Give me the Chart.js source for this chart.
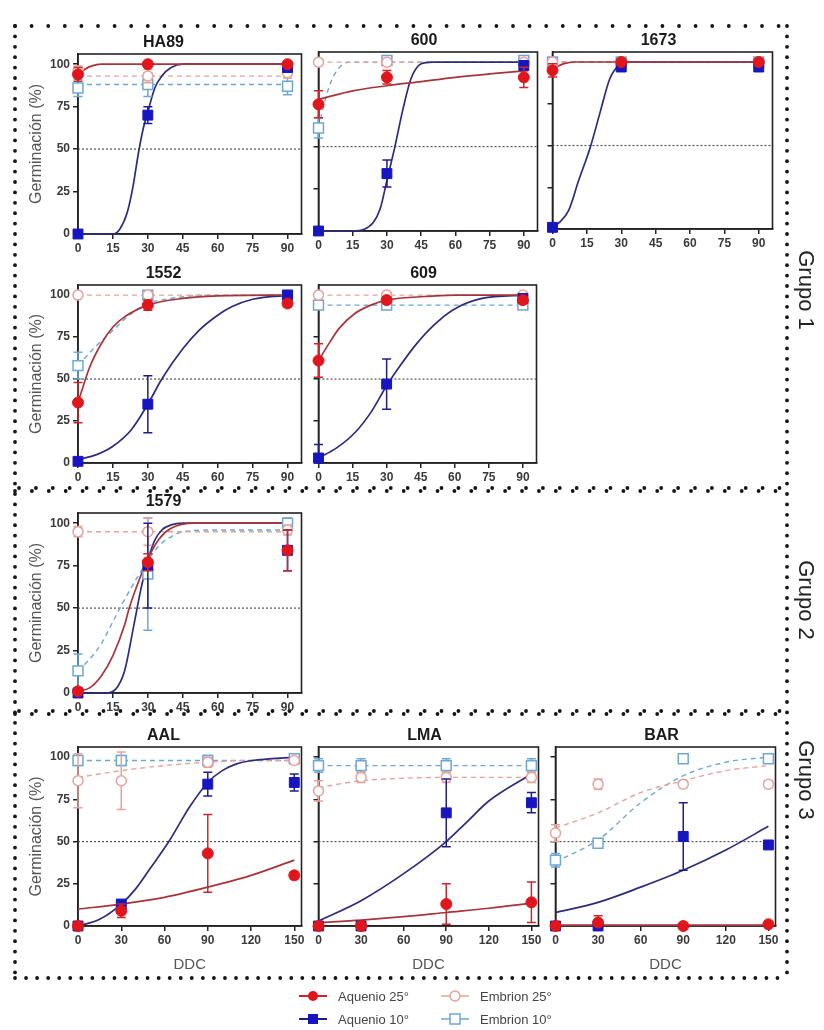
<!DOCTYPE html>
<html>
<head>
<meta charset="utf-8">
<script src="https://cdn.jsdelivr.net/npm/chart.js@4.4.1/dist/chart.umd.min.js"></script>
<style>
  html, body { margin: 0; padding: 0; background: #fff; }
  body { width: 824px; height: 1030px; position: relative; overflow: hidden;
         font-family: "Liberation Sans", Arial, sans-serif; }
  #deco { position: absolute; left: 0; top: 0; }
  .pn { position: absolute; }
  .grp { position: absolute; font-size: 22px; color: #222; white-space: nowrap;
         transform: translate(-50%, -50%) rotate(90deg); }
  .leg { position: absolute; display: flex; align-items: center; font-size: 13px; color: #444; }
  .leg svg { margin-right: 10px; }
</style>
</head>
<body>
<canvas id="deco" width="824" height="1030"></canvas>
<div id="panels"></div>
<div class="grp" style="left:806px;top:290px">Grupo 1</div>
<div class="grp" style="left:806px;top:600px">Grupo 2</div>
<div class="grp" style="left:806px;top:780px">Grupo 3</div>

<div class="leg" style="left:298px;top:987px">
  <svg width="30" height="18"><line x1="1" y1="9" x2="29" y2="9" stroke="#c9282b" stroke-width="2"/><circle cx="15" cy="9" r="5" fill="#e0161c"/></svg><span>Aquenio 25°</span></div>
<div class="leg" style="left:298px;top:1010px">
  <svg width="30" height="18"><line x1="1" y1="9" x2="29" y2="9" stroke="#1e1e86" stroke-width="2"/><rect x="10" y="4" width="10" height="10" fill="#1616c0"/></svg><span>Aquenio 10°</span></div>
<div class="leg" style="left:440px;top:987px">
  <svg width="30" height="18"><line x1="1" y1="9" x2="29" y2="9" stroke="#e6a39b" stroke-width="1.5"/><circle cx="15" cy="9" r="5" fill="#fff" stroke="#e6a39b" stroke-width="1.5"/></svg><span>Embrion 25°</span></div>
<div class="leg" style="left:440px;top:1010px">
  <svg width="30" height="18"><line x1="1" y1="9" x2="29" y2="9" stroke="#6ea7d3" stroke-width="1.5"/><rect x="10" y="4" width="10" height="10" fill="#fff" stroke="#6ea7d3" stroke-width="1.5"/></svg><span>Embrion 10°</span></div>

<script>
// ---------- shared axes ----------
const DAYS_90  = [0, 30, 90];
const DAYS_150 = [0, 30, 90, 150];
const TICKS_90  = [0, 15, 30, 45, 60, 75, 90];
const TICKS_150 = [0, 30, 60, 90, 120, 150];
const TICKS_Y   = [0, 25, 50, 75, 100];
const HALF_LINE = 50;
const SERIES = ['Aquenio 25°', 'Aquenio 10°', 'Embrion 25°', 'Embrion 10°'];

// ---------- HA89 ----------
const ha89_aq25 = [94, 100, 100];  const ha89_aq25_sd = [4, 1, 1];
const ha89_aq10 = [0, 70, 98];     const ha89_aq10_sd = [0, 5, 2];
const ha89_em25 = [96, 93, 95];    const ha89_em25_sd = [3, 4, 3];
const ha89_em10 = [86, 88, 87];    const ha89_em10_sd = [5, 7, 5];
const ha89_fit_aq25 = [[0,93],[3,97],[6,99],[10,100],[20,100],[92,100]];
const ha89_fit_aq10 = [[0,0],[15,0],[18,3],[21,12],[23.5,27],[26,48],[28,62],[30,72],[33,86],[36,93],[40,98],[45,100],[92,100]];
const ha89_fit_em25 = [[0,93],[92,93]];
const ha89_fit_em10 = [[0,88],[92,88]];

// ---------- 600 ----------
const g600_aq25 = [75, 91, 91];    const g600_aq25_sd = [8, 4, 6];
const g600_aq10 = [0, 34, 98];     const g600_aq10_sd = [0, 8, 2];
const g600_em25 = [100, 100, 100]; const g600_em25_sd = [2, 2, 2];
const g600_em10 = [61, 101, 101];  const g600_em10_sd = [6, 2, 2];
const g600_fit_aq25 = [[0,78],[15,83],[30,86],[45,88.5],[60,91],[75,93],[92,95]];
const g600_fit_aq10 = [[0,0],[15,0],[20,1],[24,5],[27,13],[30,30],[33.5,50],[37,72],[40.5,90],[45,99],[50,100],[92,100]];
const g600_fit_em25 = [[0,100],[92,100]];
const g600_fit_em10 = [[0,61],[3,78],[6,90],[10,98],[14,100],[92,100]];

// ---------- 1673 ----------
const g1673_aq25 = [95, 100, 100]; const g1673_aq25_sd = [4, 1, 1];
const g1673_aq10 = [1, 97, 97];    const g1673_aq10_sd = [0, 1, 1];
const g1673_em25 = [100, 100, 100];const g1673_em25_sd = [1, 1, 1];
const g1673_em10 = [100, 100, 100];const g1673_em10_sd = [1, 1, 1];
const g1673_fit_aq25 = [[0,96],[5,99],[10,100],[20,100],[92,100]];
const g1673_fit_aq10 = [[0,1],[3,4],[7,11],[11.4,29],[16.5,49],[20.8,70],[25,90],[29,98],[33,100],[92,100]];
const g1673_fit_em25 = [[0,100],[92,100]];
const g1673_fit_em10 = [[0,100],[92,100]];

// ---------- 1552 ----------
const g1552_aq25 = [36, 94, 95];   const g1552_aq25_sd = [12, 3, 2];
const g1552_aq10 = [1, 35, 100];   const g1552_aq10_sd = [2, 17, 1];
const g1552_em25 = [100, 100, 100];const g1552_em25_sd = [1, 2, 1];
const g1552_em10 = [58, 100, 100]; const g1552_em10_sd = [8, 2, 1];
const g1552_fit_aq25 = [[0,36],[5,57],[10,71],[15,81],[20,87],[30,94],[45,98],[60,99.5],[92,100]];
const g1552_fit_aq10 = [[0,2],[8,5],[15,10],[23,20],[30,35],[36,50],[45,68],[52,79],[60,88],[66,93],[75,97.5],[92,100]];
const g1552_fit_em25 = [[0,100],[92,100]];
const g1552_fit_em10 = [[0,58],[8,70],[15,79],[22,88],[30,95],[40,98],[55,100],[92,100]];

// ---------- 609 ----------
const g609_aq25 = [61, 97, 97];    const g609_aq25_sd = [10, 2, 2];
const g609_aq10 = [3, 47, 98];     const g609_aq10_sd = [8, 15, 2];
const g609_em25 = [100, 100, 100]; const g609_em25_sd = [1, 1, 1];
const g609_em10 = [94, 94, 94];    const g609_em10_sd = [2, 2, 2];
const g609_fit_aq25 = [[0,61],[5,72],[9,80],[16,89],[23,94],[30,97],[45,99],[60,100],[92,100]];
const g609_fit_aq10 = [[0,3],[8,9],[16,18],[23,30],[30,46],[36,58],[42,69],[50,81],[59,91],[72,98],[92,100]];
const g609_fit_em25 = [[0,100],[92,100]];
const g609_fit_em10 = [[0,94],[92,94]];

// ---------- 1579 ----------
const g1579_aq25 = [1, 77, 84];    const g1579_aq25_sd = [2, 5, 12];
const g1579_aq10 = [0, 75, 84];    const g1579_aq10_sd = [0, 25, 12];
const g1579_em25 = [95, 95, 96];   const g1579_em25_sd = [3, 8, 3];
const g1579_em10 = [13, 70, 100];  const g1579_em10_sd = [10, 33, 3];
const g1579_fit_aq25 = [[0,1],[5,3],[10,10],[15,22],[20,40],[22,50],[25,62],[30,79],[35,91],[40,97],[50,100],[92,100]];
const g1579_fit_aq10 = [[0,0],[12,0],[16,2],[20,13],[24,40],[27,61],[30,78],[33,90],[36,96],[40,99],[45,100],[92,100]];
const g1579_fit_em25 = [[0,95],[92,95]];
const g1579_fit_em10 = [[0,13],[5,20],[10,29],[15,42],[20,55],[25,67],[30,78],[35,87],[40,92],[45,95],[60,96],[92,96]];

// ---------- AAL ----------
const aal_aq25 = [0, 9, 43, 30];   const aal_aq25_sd = [1, 4, 23, 2];
const aal_aq10 = [0, 13, 84, 85];  const aal_aq10_sd = [0, 2, 7, 5];
const aal_em25 = [86, 86, 97, 98]; const aal_em25_sd = [16, 17, 3, 2];
const aal_em10 = [98, 98, 98, 99]; const aal_em10_sd = [3, 3, 3, 2];
const aal_fit_aq25 = [[0,10],[30,13],[60,17],[90,23],[120,30],[150,39]];
const aal_fit_aq10 = [[0,0],[15,4],[30,13],[40,22],[50,34],[63,50],[70,60],[77,70],[90,85],[100,92],[110,96],[121,98],[150,100]];
const aal_fit_em25 = [[0,88],[30,92],[60,95],[90,97],[120,98],[150,98]];
const aal_fit_em10 = [[0,98],[150,98]];

// ---------- LMA ----------
const lma_aq25 = [0, 0, 13, 14];   const lma_aq25_sd = [1, 0, 12, 12];
const lma_aq10 = [0, 0, 67, 73];   const lma_aq10_sd = [0, 0, 20, 6];
const lma_em25 = [80, 88, 88, 88]; const lma_em25_sd = [6, 3, 3, 3];
const lma_em10 = [95, 95, 95, 95]; const lma_em10_sd = [4, 4, 4, 4];
const lma_fit_aq25 = [[0,2],[30,3.5],[60,5.5],[90,8],[120,10.5],[150,13.5]];
const lma_fit_aq10 = [[0,3],[30,15],[60,31],[90,50],[105,62],[120,74],[150,90]];
const lma_fit_em25 = [[0,82],[30,86],[60,87.5],[90,88],[150,88]];
const lma_fit_em10 = [[0,95],[150,95]];

// ---------- BAR ----------
const bar_aq25 = [0, 2, 0, 1];     const bar_aq25_sd = [0, 4, 0, 0];
const bar_aq10 = [0, 0, 53, 48];   const bar_aq10_sd = [0, 0, 20, 2];
const bar_em25 = [55, 84, 84, 84]; const bar_em25_sd = [5, 3, 2, 2];
const bar_em10 = [39, 49, 99, 99]; const bar_em10_sd = [4, 2, 1, 2];
const bar_fit_aq25 = [[0,0.5],[150,0.5]];
const bar_fit_aq10 = [[0,8],[30,14],[60,23],[90,33],[120,45],[150,59]];
const bar_fit_em25 = [[0,58],[30,67],[60,79],[90,86],[120,92],[150,95]];
const bar_fit_em10 = [[0,38],[30,51],[60,73],[90,89],[120,97],[150,100]];

// ---------- styling ----------
const FONT = '"Liberation Sans", Arial, sans-serif';
const STYLE = [
  { fill: '#e0161c', line: '#e0161c', err: '#c9282b', fit: '#a8343a', shape: 'circle', r: 5.5, open: false, dash: [] },
  { fill: '#1616c0', line: '#1616c0', err: '#1e1e86', fit: '#2c2c7c', shape: 'rect',   r: 7,   open: false, dash: [] },
  { fill: '#ffffff', line: '#e6a39b', err: '#e6a39b', fit: '#e6a39b', shape: 'circle', r: 5,   open: true,  dash: [5, 4] },
  { fill: '#ffffff', line: '#6ea7d3', err: '#6ea7d3', fit: '#6ea7d3', shape: 'rect',   r: 7,   open: true,  dash: [5, 4] }
];

const PANELS = [
  { title: 'HA89', days: DAYS_90,  ticks: TICKS_90,  xmax: 96,  box: [78, 54, 302, 234],  left: true,  bottom: false,
    pts: [ha89_aq25, ha89_aq10, ha89_em25, ha89_em10], sd: [ha89_aq25_sd, ha89_aq10_sd, ha89_em25_sd, ha89_em10_sd],
    fit: [ha89_fit_aq25, ha89_fit_aq10, ha89_fit_em25, ha89_fit_em10] },
  { title: '600',  days: DAYS_90,  ticks: TICKS_90,  xmax: 96,  box: [316, 52, 538, 231], left: false, bottom: false,
    pts: [g600_aq25, g600_aq10, g600_em25, g600_em10], sd: [g600_aq25_sd, g600_aq10_sd, g600_em25_sd, g600_em10_sd],
    fit: [g600_fit_aq25, g600_fit_aq10, g600_fit_em25, g600_fit_em10] },
  { title: '1673', days: DAYS_90,  ticks: TICKS_90,  xmax: 96,  box: [550, 52, 773, 229], left: false, bottom: false,
    pts: [g1673_aq25, g1673_aq10, g1673_em25, g1673_em10], sd: [g1673_aq25_sd, g1673_aq10_sd, g1673_em25_sd, g1673_em10_sd],
    fit: [g1673_fit_aq25, g1673_fit_aq10, g1673_fit_em25, g1673_fit_em10] },
  { title: '1552', days: DAYS_90,  ticks: TICKS_90,  xmax: 96,  box: [78, 285, 302, 463], left: true,  bottom: false,
    pts: [g1552_aq25, g1552_aq10, g1552_em25, g1552_em10], sd: [g1552_aq25_sd, g1552_aq10_sd, g1552_em25_sd, g1552_em10_sd],
    fit: [g1552_fit_aq25, g1552_fit_aq10, g1552_fit_em25, g1552_fit_em10] },
  { title: '609',  days: DAYS_90,  ticks: TICKS_90,  xmax: 96,  box: [316, 285, 537, 463], left: false, bottom: false,
    pts: [g609_aq25, g609_aq10, g609_em25, g609_em10], sd: [g609_aq25_sd, g609_aq10_sd, g609_em25_sd, g609_em10_sd],
    fit: [g609_fit_aq25, g609_fit_aq10, g609_fit_em25, g609_fit_em10] },
  { title: '1579', days: DAYS_90,  ticks: TICKS_90,  xmax: 96,  box: [78, 513, 302, 693], left: true,  bottom: false,
    pts: [g1579_aq25, g1579_aq10, g1579_em25, g1579_em10], sd: [g1579_aq25_sd, g1579_aq10_sd, g1579_em25_sd, g1579_em10_sd],
    fit: [g1579_fit_aq25, g1579_fit_aq10, g1579_fit_em25, g1579_fit_em10] },
  { title: 'AAL',  days: DAYS_150, ticks: TICKS_150, xmax: 155, box: [78, 747, 302, 926], left: true,  bottom: true,
    pts: [aal_aq25, aal_aq10, aal_em25, aal_em10], sd: [aal_aq25_sd, aal_aq10_sd, aal_em25_sd, aal_em10_sd],
    fit: [aal_fit_aq25, aal_fit_aq10, aal_fit_em25, aal_fit_em10] },
  { title: 'LMA',  days: DAYS_150, ticks: TICKS_150, xmax: 155, box: [316, 747, 539, 926], left: false, bottom: true,
    pts: [lma_aq25, lma_aq10, lma_em25, lma_em10], sd: [lma_aq25_sd, lma_aq10_sd, lma_em25_sd, lma_em10_sd],
    fit: [lma_fit_aq25, lma_fit_aq10, lma_fit_em25, lma_fit_em10] },
  { title: 'BAR',  days: DAYS_150, ticks: TICKS_150, xmax: 155, box: [553, 747, 776, 926], left: false, bottom: true,
    pts: [bar_aq25, bar_aq10, bar_em25, bar_em10], sd: [bar_aq25_sd, bar_aq10_sd, bar_em25_sd, bar_em10_sd],
    fit: [bar_fit_aq25, bar_fit_aq10, bar_fit_em25, bar_fit_em10] }
];

// ---------- plugins ----------
const errorBars = {
  id: 'errorBars',
  beforeDatasetDraw(chart, args) {
    const ds = chart.data.datasets[args.index];
    if (!ds.sd) return;
    const { ctx, scales: { x, y } } = chart;
    ctx.save();
    ctx.strokeStyle = ds.errColor;
    ctx.lineWidth = 1.5;
    ds.data.forEach((p, i) => {
      const e = ds.sd[i];
      if (!e) return;
      const px = x.getPixelForValue(p.x);
      const y1 = y.getPixelForValue(Math.max(0, p.y - e));
      const y2 = y.getPixelForValue(p.y + e);
      ctx.beginPath();
      ctx.moveTo(px, y1); ctx.lineTo(px, y2);
      ctx.moveTo(px - 4.5, y1); ctx.lineTo(px + 4.5, y1);
      ctx.moveTo(px - 4.5, y2); ctx.lineTo(px + 4.5, y2);
      ctx.stroke();
    });
    ctx.restore();
  }
};

const frame = {
  id: 'frame',
  beforeDatasetsDraw(chart) {
    const { ctx, chartArea: a } = chart;
    ctx.save();
    ctx.strokeStyle = '#222';
    ctx.lineWidth = 1.6;
    ctx.strokeRect(a.left, a.top, a.right - a.left, a.bottom - a.top);
    ctx.restore();
  }
};

// ---------- build panels ----------
const TITLE_H = 20;
const host = document.getElementById('panels');

PANELS.forEach(p => {
  const [L, T, R, B] = p.box;
  const yW = p.left ? 53 : 6;
  const xH = p.bottom ? 48 : 22;
  const padR = 8;
  const w = yW + (R - L) + padR;
  const h = TITLE_H + (B - T) + xH;

  const wrap = document.createElement('div');
  wrap.className = 'pn';
  wrap.style.left = (L - yW) + 'px';
  wrap.style.top = (T - TITLE_H) + 'px';
  const cv = document.createElement('canvas');
  cv.width = w; cv.height = h;
  cv.style.width = w + 'px'; cv.style.height = h + 'px';
  wrap.appendChild(cv);
  host.appendChild(wrap);

  const datasets = [];
  // measured points (first dataset sits on top)
  SERIES.forEach((name, k) => {
    const s = STYLE[k];
    datasets.push({
      type: 'scatter',
      label: name,
      data: p.days.map((d, i) => ({ x: d, y: p.pts[k][i] })),
      sd: p.sd[k],
      errColor: s.err,
      pointStyle: s.shape,
      pointRadius: s.r,
      pointBackgroundColor: s.fill,
      pointBorderColor: s.line,
      pointBorderWidth: s.open ? 1.5 : 1,
      showLine: false,
      clip: false
    });
  });
  // fitted curves
  SERIES.forEach((name, k) => {
    const s = STYLE[k];
    datasets.push({
      type: 'line',
      label: name + ' ajuste',
      data: p.fit[k].map(([x, y]) => ({ x, y })),
      borderColor: s.fit,
      borderWidth: s.open ? 1.4 : 1.7,
      borderDash: s.dash,
      pointRadius: 0,
      cubicInterpolationMode: 'monotone',
      fill: false,
      clip: false
    });
  });
  // 50 % reference line
  datasets.push({
    type: 'line',
    label: '50%',
    data: [{ x: 0, y: HALF_LINE }, { x: p.xmax, y: HALF_LINE }],
    borderColor: '#555',
    borderWidth: 1.2,
    borderDash: [2, 2],
    pointRadius: 0,
    fill: false
  });

  new Chart(cv, {
    type: 'scatter',
    data: { datasets },
    plugins: [frame, errorBars],
    options: {
      responsive: false,
      animation: false,
      devicePixelRatio: 1,
      layout: { padding: { left: 0, right: padR, top: 0, bottom: 0 } },
      plugins: {
        legend: { display: false },
        tooltip: { enabled: false },
        title: {
          display: true, text: p.title, color: '#1a1a1a',
          font: { family: FONT, size: 16, weight: 'bold', lineHeight: '17px' },
          padding: { top: 0, bottom: 3 }
        }
      },
      scales: {
        x: {
          type: 'linear', min: 0, max: p.xmax,
          afterBuildTicks: sc => { sc.ticks = p.ticks.map(v => ({ value: v })); },
          afterFit: sc => { sc.height = xH; },
          grid: { drawOnChartArea: false, drawTicks: true, tickLength: 5, color: '#222', lineWidth: 1.5 },
          border: { display: true, color: '#222', width: 1.6 },
          ticks: { font: { family: FONT, size: 12, weight: 'bold' }, color: '#3a3a3a', padding: 2,
                   maxRotation: 0, autoSkip: false },
          title: { display: p.bottom, text: 'DDC', color: '#555',
                   font: { family: FONT, size: 15 }, padding: { top: 0, bottom: 0 } }
        },
        y: {
          type: 'linear', min: 0, max: 106,
          afterBuildTicks: sc => { sc.ticks = TICKS_Y.map(v => ({ value: v })); },
          afterFit: sc => { sc.width = yW; },
          grid: { drawOnChartArea: false, drawTicks: true, tickLength: 5, color: '#222', lineWidth: 1.5 },
          border: { display: true, color: '#222', width: 1.6 },
          ticks: { display: p.left, font: { family: FONT, size: 12, weight: 'bold' }, color: '#3a3a3a', padding: 3 },
          title: { display: p.left, text: 'Germinación (%)', color: '#555',
                   font: { family: FONT, size: 16 }, padding: { top: 2, bottom: 0 } }
        }
      }
    }
  });
});

// ---------- dotted group frames ----------
const dc = document.getElementById('deco').getContext('2d');
dc.fillStyle = '#151515';
function dot(x, y) { dc.beginPath(); dc.arc(x, y, 1.9, 0, Math.PI * 2); dc.fill(); }
for (let x = 15; x <= 788; x += 16.6) dot(x, 26);
for (let x = 15; x <= 788; x += 11.05) dot(x, 978);
for (let y = 26; y <= 979; y += 10.4) { dot(15, y); dot(787, y); }
for (let x = 15; x <= 788; x += 16.9) {
  dot(x, 491); dot(x + 4, 488);
  dot(x, 714); dot(x + 4, 711);
}
</script>
</body>
</html>
